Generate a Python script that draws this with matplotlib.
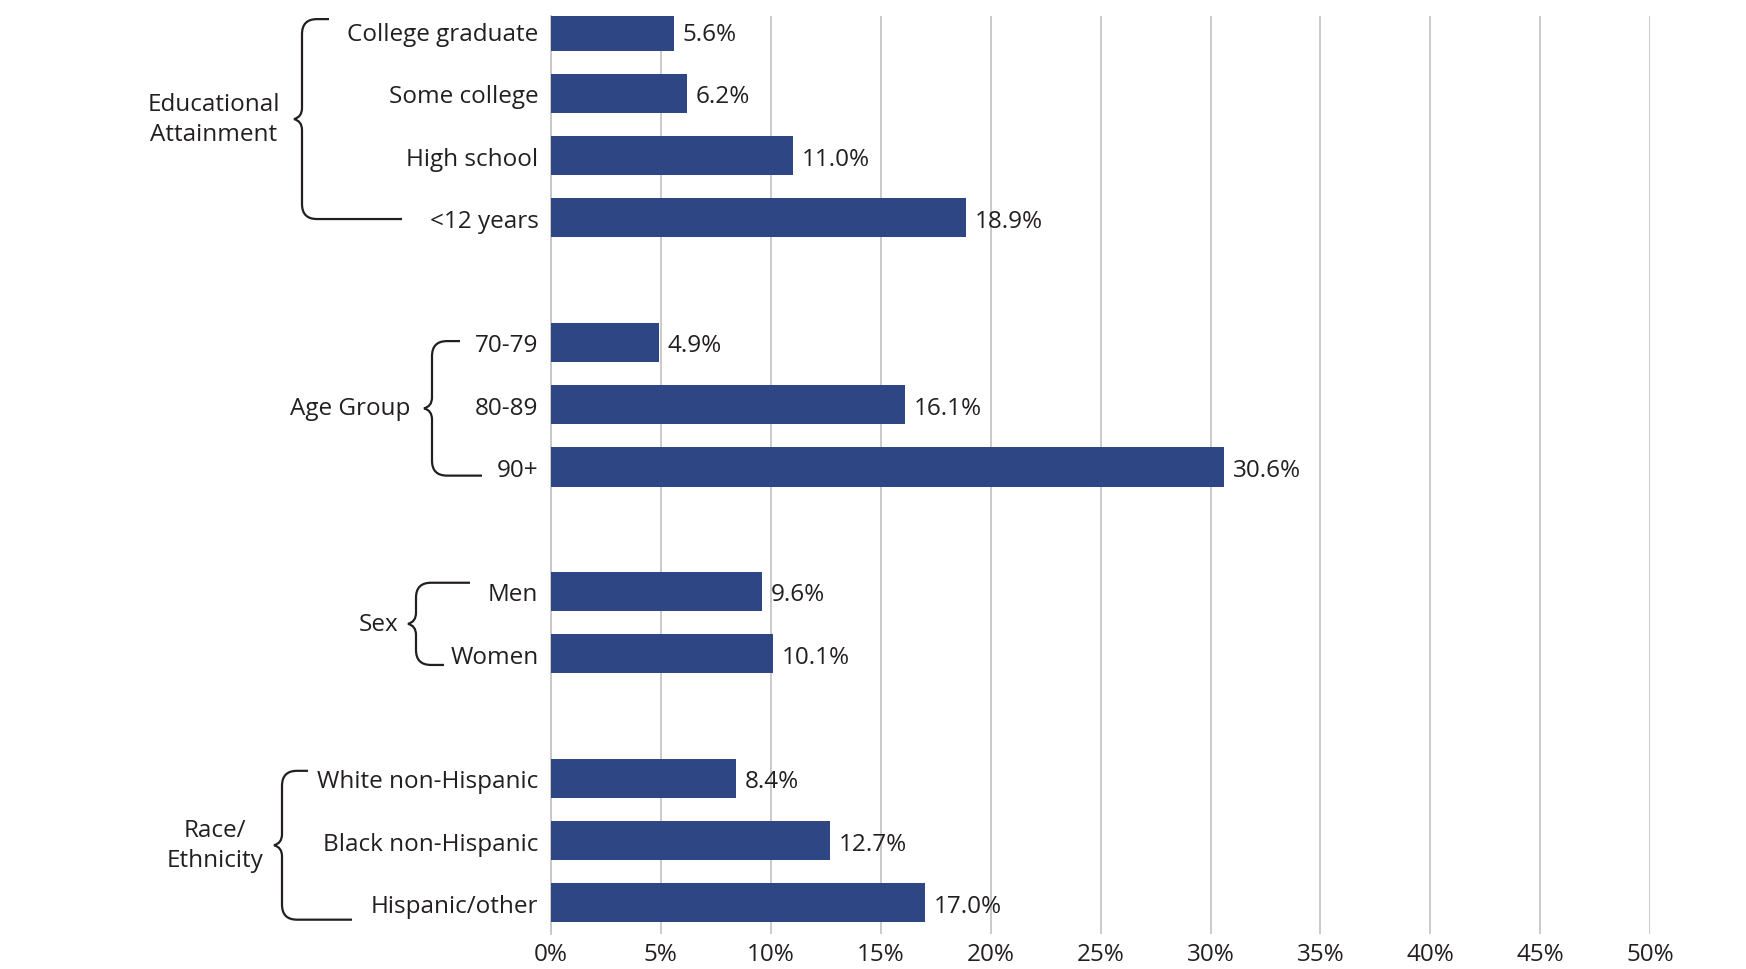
import numpy as np
import matplotlib.pyplot as plt
from matplotlib.path import Path
from matplotlib.patches import PathPatch

plt.rcParams['font.family'] = ['Open Sans', 'DejaVu Sans']

# data
categories = ["College graduate", "Some college", "High school", "<12 years",
              "70-79", "80-89", "90+",
              "Men", "Women",
              "White non-Hispanic", "Black non-Hispanic", "Hispanic/other"]
values = [5.6, 6.2, 11.0, 18.9,
          4.9, 16.1, 30.6,
          9.6, 10.1,
          8.4, 12.7, 17.0]
# slot index of each bar (empty slots separate the groups)
slots = [0, 1, 2, 3, 5, 6, 7, 9, 10, 12, 13, 14]
groups = ["Educational\nAttainment", "Age Group", "Sex", "Race/\nEthnicity"]
group_members = [(0, 3), (4, 6), (7, 8), (9, 11)]
xticks = np.arange(0, 55, 5)

BAR = '#2f4685'
TXT = '#231f20'
GRID = '#c6c6c6'
FS = 17.5

W, H = 1746, 970
fig = plt.figure(figsize=(W / 100, H / 100), dpi=100)
ax = fig.add_axes([551 / W, 1 - 935 / H, (1650 - 551) / W + 0.0001, (935 - 17) / H])

ax.barh(slots, values, height=0.63, color=BAR, zorder=3)
for s, v in zip(slots, values):
    ax.text(v + 0.4, s, f"{v:.1f}%", va='center_baseline', ha='left', fontsize=FS, color=TXT)

ax.set_xlim(0, 50)
ax.set_ylim(14.5, -0.24)
ax.set_xticks(xticks)
ax.set_xticklabels([f"{t}%" for t in xticks], fontsize=FS, color=TXT)
ax.set_yticks(slots)
ax.set_yticklabels(categories, fontsize=FS, color=TXT)
for lab in ax.get_yticklabels():
    lab.set_verticalalignment('center_baseline')
ax.tick_params(axis='both', length=0)
ax.tick_params(axis='y', pad=9)
ax.tick_params(axis='x', pad=6)
ax.grid(axis='x', color=GRID, lw=1.3, zorder=0)
for sp in ['top', 'right', 'bottom']:
    ax.spines[sp].set_visible(False)
ax.spines['left'].set_color(GRID)
ax.spines['left'].set_linewidth(1.3)

# overlay in pixel coordinates (y downward) for the group braces
ov = fig.add_axes([0, 0, 1, 1])
ov.set_xlim(0, W)
ov.set_ylim(H, 0)
ov.axis('off')


def slot_px(s):
    return H - ax.transData.transform((0, s))[1]


def brace(xv, y_top, y_bot, x_top_end, x_bot_end, r=15, d=8, c=11):
    ym = (y_top + y_bot) / 2
    verts = [(x_top_end, y_top), (xv + r, y_top), (xv, y_top), (xv, y_top + r),
             (xv, ym - c), (xv, ym - 2), (xv - d, ym), (xv, ym + 2), (xv, ym + c),
             (xv, y_bot - r), (xv, y_bot), (xv + r, y_bot), (x_bot_end, y_bot)]
    codes = [Path.MOVETO, Path.LINETO, Path.CURVE3, Path.CURVE3,
             Path.LINETO, Path.CURVE3, Path.CURVE3, Path.CURVE3, Path.CURVE3,
             Path.LINETO, Path.CURVE3, Path.CURVE3, Path.LINETO]
    ov.add_patch(PathPatch(Path(verts, codes), fill=False, lw=1.6, color=TXT))
    return ym


# brace layout: vertical x, top/bottom offsets (slots), end x of hooks, label right edge
brace_style = [
    (302, -0.19, 0.02, 329, 402, 280),
    (432, -0.02, 0.14, 460, 482, 410),
    (416, -0.14, 0.18, 470, 444, 398),
    (282, -0.12, 0.27, 308, 352, 263),
]
for name, (i0, i1), (xv, dt, db, xe_t, xe_b, xl) in zip(groups, group_members, brace_style):
    yt = slot_px(slots[i0] + dt)
    yb = slot_px(slots[i1] + db)
    ym = brace(xv, yt, yb, xe_t, xe_b)
    ov.text(xl, ym, name, ha='right', va='center', fontsize=FS, color=TXT,
            multialignment='center', linespacing=1.35)

fig.savefig('out.png', dpi=100)
